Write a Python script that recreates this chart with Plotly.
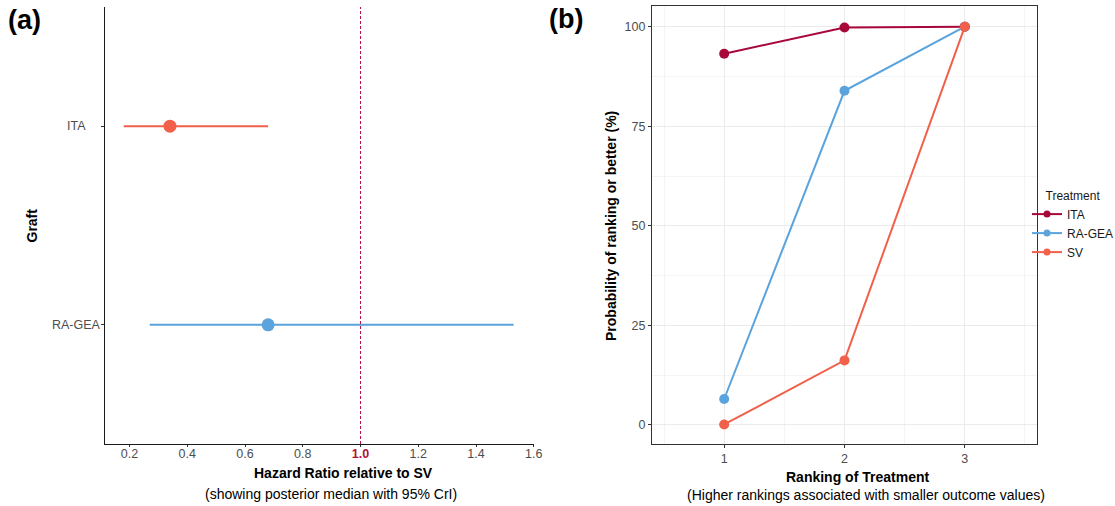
import plotly.graph_objects as go

# ---------------- Data ----------------
# Panel (a): forest plot
grafts = ["ITA", "RA-GEA"]
hr_median = [0.34, 0.68]
hr_lower = [0.18, 0.27]
hr_upper = [0.68, 1.53]
hr_ticks = [0.2, 0.4, 0.6, 0.8, 1.0, 1.2, 1.4, 1.6]
reference_hr = 1.0

# Panel (b): cumulative ranking probabilities
ranks = [1, 2, 3]
treatments = ["ITA", "RA-GEA", "SV"]
cum_prob_ita = [93.2, 99.8, 100.0]
cum_prob_ragea = [6.5, 83.9, 100.0]
cum_prob_sv = [0.1, 16.2, 100.0]
prob_ticks = [0, 25, 50, 75, 100]

# ---------------- Styles ----------------
W, H = 1115, 506
FONT = "Liberation Sans, Arial, sans-serif"
TICK_COL = "#4D4D4D"
CRIMSON = "#B0103C"
graft_colors = {"ITA": "#F0604A", "RA-GEA": "#5AA3DC"}
treat_colors = {"ITA": "#A8073A", "RA-GEA": "#5AA3DC", "SV": "#F0604A"}
TICK_SIZE = 12.5
TITLE_SIZE = 14


def px_x(px):
    return px / W


def px_y(py):
    return (H - py) / H


fig = go.Figure()

# ---- Panel (a) ----
for g, med, lo, hi in zip(grafts, hr_median, hr_lower, hr_upper):
    fig.add_trace(go.Scatter(
        x=[med], y=[g], mode="markers",
        marker=dict(size=13, color=graft_colors[g]),
        error_x=dict(type="data", symmetric=False,
                     array=[hi - med], arrayminus=[med - lo],
                     color=graft_colors[g], thickness=2, width=0),
        xaxis="x", yaxis="y", showlegend=False, hoverinfo="x+y",
    ))

# ---- Panel (b) ----
series = {"ITA": cum_prob_ita, "RA-GEA": cum_prob_ragea, "SV": cum_prob_sv}
for t in treatments:
    fig.add_trace(go.Scatter(
        x=ranks, y=series[t], mode="lines+markers", name=t,
        line=dict(color=treat_colors[t], width=2),
        marker=dict(size=10, color=treat_colors[t]),
        xaxis="x2", yaxis="y2", showlegend=False, legendgroup=t,
    ))
# legend keys (small symbols, like the reference)
for t in treatments:
    fig.add_trace(go.Scatter(
        x=[None], y=[None], mode="lines+markers", name=t,
        line=dict(color=treat_colors[t], width=2),
        marker=dict(size=7, color=treat_colors[t]),
        xaxis="x2", yaxis="y2", showlegend=True, legendgroup=t,
    ))

hr_ticktext = [
    f"<b><span style='color:{CRIMSON}'>{v:.1f}</span></b>" if v == reference_hr else f"{v:.1f}"
    for v in hr_ticks
]

fig.update_layout(
    width=W, height=H,
    margin=dict(l=0, r=0, t=0, b=0, autoexpand=False),
    paper_bgcolor="white", plot_bgcolor="white",
    font=dict(family=FONT, size=12, color="#000000"),
    xaxis=dict(
        domain=[px_x(104.7), px_x(533.8)], range=[0.114, 1.6],
        tickvals=hr_ticks, ticktext=hr_ticktext,
        showgrid=False, zeroline=False,
        showline=True, linecolor="#1A1A1A", linewidth=1.3,
        ticks="outside", ticklen=2, tickcolor="#333333", ticklabelstandoff=-4,
        tickfont=dict(size=TICK_SIZE, color=TICK_COL), anchor="y",
    ),
    yaxis=dict(
        domain=[px_y(444), px_y(7)], type="category",
        categoryorder="array", categoryarray=["RA-GEA", "ITA"],
        range=[-0.6, 1.6],
        showgrid=False, zeroline=False, showticklabels=False,
        showline=True, linecolor="#1A1A1A", linewidth=1.3,
        ticks="outside", ticklen=3, tickcolor="#333333", anchor="x",
    ),
    xaxis2=dict(
        domain=[px_x(652), px_x(1037)], range=[0.4, 3.6],
        tickvals=ranks, ticktext=[str(r) for r in ranks],
        showgrid=True, gridcolor="#EBEBEB", gridwidth=1,
        minor=dict(dtick=0.5, tick0=0, showgrid=True, gridcolor="#F4F4F4", gridwidth=0.6),
        zeroline=False, showline=True, mirror=True,
        linecolor="#333333", linewidth=1.3,
        ticks="outside", ticklen=3, tickcolor="#333333",
        tickfont=dict(size=TICK_SIZE, color=TICK_COL), anchor="y2",
    ),
    yaxis2=dict(
        domain=[px_y(444), px_y(6)], range=[-4.8, 105.2],
        tickvals=prob_ticks, ticktext=[str(v) for v in prob_ticks],
        showgrid=True, gridcolor="#EBEBEB", gridwidth=1,
        minor=dict(dtick=12.5, tick0=0, showgrid=True, gridcolor="#F4F4F4", gridwidth=0.6),
        zeroline=False, showline=True, mirror=True,
        linecolor="#333333", linewidth=1.3,
        ticks="outside", ticklen=3, tickcolor="#333333",
        tickfont=dict(size=TICK_SIZE, color=TICK_COL), anchor="x2",
    ),
    legend=dict(
        x=px_x(1027), y=px_y(184), xanchor="left", yanchor="top",
        title=dict(text="Treatment", side="top center", font=dict(size=12)),
        font=dict(size=12, color="#1A1A1A"),
        itemwidth=30, bgcolor="rgba(0,0,0,0)", tracegroupgap=0,
    ),
    showlegend=True,
)

# reference line at HR = 1
fig.add_shape(type="line", xref="x", yref="y domain",
              x0=reference_hr, x1=reference_hr, y0=0, y1=1,
              line=dict(color=CRIMSON, width=1, dash="3px,2px"))

annos = []
# panel tags
annos.append(dict(text="<b>(a)</b>", x=px_x(24.5), y=px_y(20), font=dict(size=27)))
annos.append(dict(text="<b>(b)</b>", x=px_x(566), y=px_y(19), font=dict(size=27)))
# panel (a) axis titles
annos.append(dict(text="<b>Graft</b>", x=px_x(31), y=px_y(225.5), textangle=-90, font=dict(size=TITLE_SIZE)))
annos.append(dict(text="<b>Hazard Ratio relative to SV</b>", x=px_x(343), y=px_y(473), font=dict(size=TITLE_SIZE)))
annos.append(dict(text="(showing posterior median with 95% CrI)", x=px_x(331), y=px_y(493.5), font=dict(size=TITLE_SIZE)))
# panel (b) axis titles
annos.append(dict(text="<b>Probability of ranking or better (%)</b>", x=px_x(611), y=px_y(226), textangle=-90, font=dict(size=TITLE_SIZE)))
annos.append(dict(text="<b>Ranking of Treatment</b>", x=px_x(857), y=px_y(477), font=dict(size=TITLE_SIZE)))
annos.append(dict(text="(Higher rankings associated with smaller outcome values)", x=px_x(866), y=px_y(495), font=dict(size=TITLE_SIZE)))

for a in annos:
    a.update(xref="paper", yref="paper", showarrow=False, xanchor="center", yanchor="middle")
    fig.add_annotation(**a)

# centred category labels for panel (a)
for g in grafts:
    fig.add_annotation(text=g, xref="paper", yref="y", x=px_x(76), y=g,
                       showarrow=False, xanchor="center", yanchor="middle",
                       font=dict(size=TICK_SIZE, color=TICK_COL))

fig.write_html("out.html", config={"displayModeBar": False},
               post_script="document.body.style.margin='0';")
